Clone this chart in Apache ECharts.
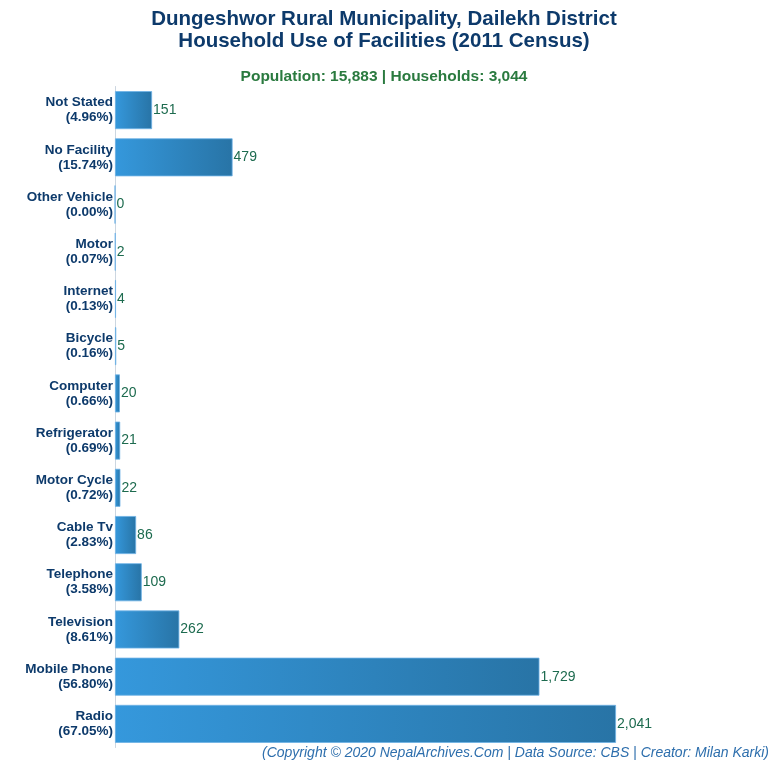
<!DOCTYPE html>
<html>
<head>
<meta charset="utf-8">
<script src="https://cdn.jsdelivr.net/npm/echarts@6/dist/echarts.min.js"></script>
<style>html,body{margin:0;padding:0;background:#fff}#c{width:768px;height:768px}</style>
</head>
<body>
<div id="c"></div>
<script>
const categories = ["Not Stated","No Facility","Other Vehicle","Motor","Internet","Bicycle","Computer","Refrigerator","Motor Cycle","Cable Tv","Telephone","Television","Mobile Phone","Radio"];
const percents = ["4.96%","15.74%","0.00%","0.07%","0.13%","0.16%","0.66%","0.69%","0.72%","2.83%","3.58%","8.61%","56.80%","67.05%"];
const values = [151,479,0,2,4,5,20,21,22,86,109,262,1729,2041];

const chart = echarts.init(document.getElementById('c'));
const labels = categories.map((c,i)=>c+"\n("+percents[i]+")");
chart.setOption({
  animation:false,
  title:[{
    text:"Dungeshwor Rural Municipality, Dailekh District\nHousehold Use of Facilities (2011 Census)",
    left:'center', top:3,
    textStyle:{fontFamily:'Liberation Sans, Arial', fontSize:20.5, fontWeight:'bold', color:'#0d3a6b', lineHeight:22}
  },{
    text:"Population: 15,883 | Households: 3,044",
    left:'center', top:64,
    textStyle:{fontFamily:'Liberation Sans, Arial', fontSize:15.5, fontWeight:'bold', color:'#2a7a3f'}
  }],
  graphic:[{
    type:'text', left:262, top:746,
    style:{text:"(Copyright © 2020 NepalArchives.Com | Data Source: CBS | Creator: Milan Karki)",
      font:'italic 14px "Liberation Sans", Arial', fill:'#2e6fad'}
  }],
  grid:{left:115, top:86.5, height:661, right:39.3, containLabel:false},
  xAxis:{type:'value', min:0, max:2500, show:false},
  yAxis:{type:'category', data:labels, inverse:true,
    axisLine:{show:true, lineStyle:{color:'#ccd6e0'}},
    axisTick:{show:false},
    axisLabel:{fontFamily:'Liberation Sans, Arial', fontSize:13.5, fontWeight:'bold', color:'#0d3a6b', lineHeight:15, margin:2, align:'right'}
  },
  series:[{
    type:'bar', data:values, barWidth:38,
    itemStyle:{
      color:new echarts.graphic.LinearGradient(0,0,1,0,[{offset:0,color:'#3598dc'},{offset:1,color:'#2874a6'}]),
      borderColor:'#6fb3e6', borderWidth:0.8
    },
    label:{show:true, position:'right', distance:1, fontFamily:'Liberation Sans, Arial', fontSize:14, color:'#1d6b4f',
      formatter:p=>p.value.toLocaleString('en-US')}
  }]
});
</script>
</body>
</html>
